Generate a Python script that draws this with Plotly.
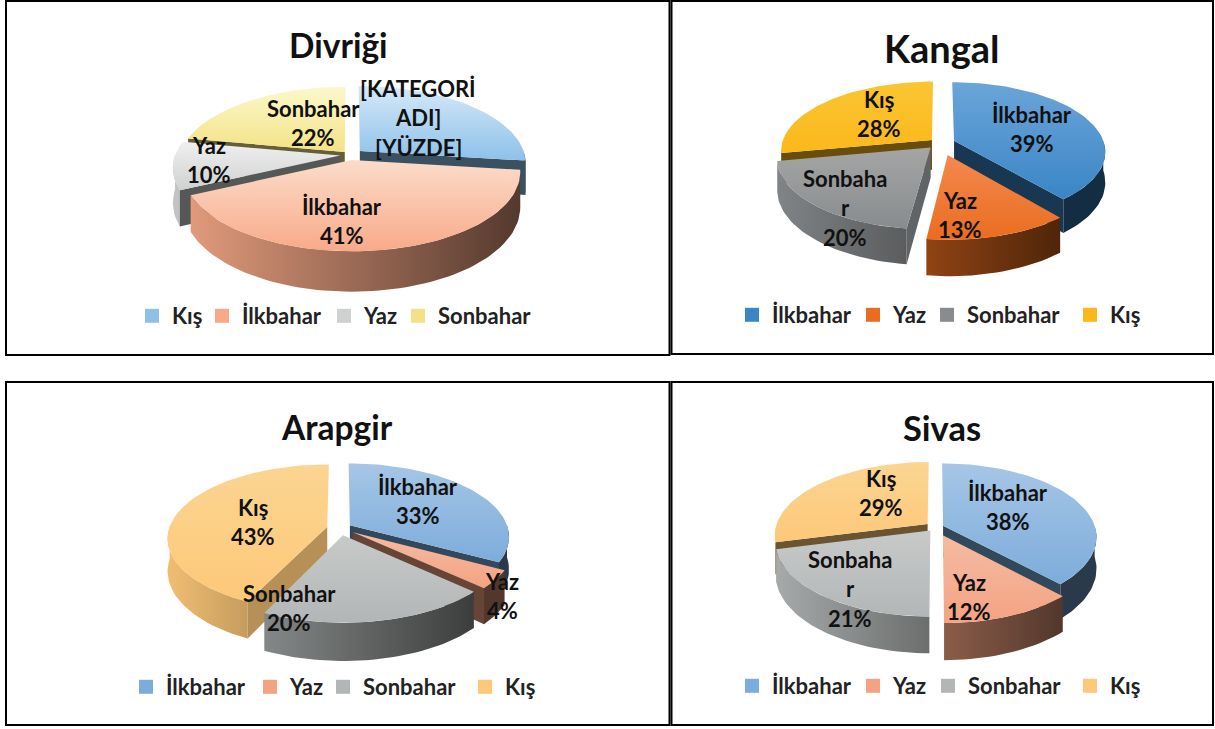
import math
import plotly.graph_objects as go

# ---- data ----
DIVRIGI_NAMES = ["Kış", "İlkbahar", "Yaz", "Sonbahar"]
DIVRIGI_VALUES = [27, 41, 10, 22]
KANGAL_NAMES = ["İlkbahar", "Yaz", "Sonbahar", "Kış"]
KANGAL_VALUES = [39, 13, 20, 28]
ARAPGIR_NAMES = ["İlkbahar", "Yaz", "Sonbahar", "Kış"]
ARAPGIR_VALUES = [33, 4, 20, 43]
SIVAS_NAMES = ["İlkbahar", "Yaz", "Sonbahar", "Kış"]
SIVAS_VALUES = [38, 12, 21, 29]

# ---- styles ----
DIVRIGI_TOP = [("#d6e9f8", "#8dc1ea"), ("#fcdccb", "#f8aa88"), ("#f0f0f0", "#cfd0d0"), ("#fcf8cc", "#f3e285")]
KANGAL_TOP = [("#6ba5d9", "#3a85c6"), ("#f5894f", "#e96d20"), ("#a5a5a5", "#888c8e"), ("#fac534", "#fcb81a")]
ARAPGIR_TOP = [("#a6c6e6", "#7dacdb"), ("#f4bba3", "#f4a382"), ("#c8caca", "#b3b6b6"), ("#fbd592", "#fdc879")]
SIVAS_TOP = ARAPGIR_TOP

PANELS = [
    dict(title="Divriği", tsize=33.5, tx=338, ty=45, names=DIVRIGI_NAMES, values=DIVRIGI_VALUES, top=DIVRIGI_TOP,
         cx=350, cy=155, R=165, Ry=76, D=34, pull=[0.08, 0.065, 0.06, 0.05],
         legend_text_x=[172, 242, 364, 438], ly=316),
    dict(title="Kangal", tsize=38, tx=942, ty=48, names=KANGAL_NAMES, values=KANGAL_VALUES, top=KANGAL_TOP,
         cx=940, cy=143, R=150, Ry=68, D=30, pull=[0.10, 0.18, 0.09, 0.07],
         legend_text_x=[772, 893, 967, 1110], ly=315),
    dict(title="Arapgir", tsize=33.5, tx=337, ty=427, names=ARAPGIR_NAMES, values=ARAPGIR_VALUES, top=ARAPGIR_TOP,
         cx=340, cy=528, R=158, Ry=72, D=32, pull=[0.073, 0.10, 0.10, 0.083],
         legend_text_x=[166, 290, 363, 505], ly=687),
    dict(title="Sivas", tsize=34.5, tx=942, ty=427, names=SIVAS_NAMES, values=SIVAS_VALUES, top=SIVAS_TOP,
         cx=936, cy=527, R=152, Ry=72, D=31, pull=[0.05, 0.12, 0.06, 0.07],
         legend_text_x=[772, 893, 968, 1110], ly=686),
]

LABEL_LINES = {
    "Divriği": [
        (["[KATEGORİ", "ADI]", "[YÜZDE]"], 418, 88),
        (["İlkbahar", "41%"], 342, 206),
        (["Yaz", "10%"], 209, 145),
        (["Sonbahar", "22%"], 313, 108),
    ],
    "Kangal": [
        (["İlkbahar", "39%"], 1032, 114),
        (["Yaz", "13%"], 960, 200),
        (["Sonbaha", "r", "20%"], 845, 178),
        (["Kış", "28%"], 879, 99),
    ],
    "Arapgir": [
        (["İlkbahar", "33%"], 418, 486),
        (["Yaz", "4%"], 502, 581),
        (["Sonbahar", "20%"], 289, 593),
        (["Kış", "43%"], 253, 507),
    ],
    "Sivas": [
        (["İlkbahar", "38%"], 1008, 492),
        (["Yaz", "12%"], 969, 582),
        (["Sonbaha", "r", "21%"], 850, 559),
        (["Kış", "29%"], 881, 478),
    ],
}

FONT = "Lato"
PERSPECTIVE = 0.15
LINE_GAP = 29.5
TEXT_SIZE = 22
LEGEND_TEXT_OFFSET = 40  # from the legend's left edge to its text


def shade(hex_color, f):
    r, g, b = (int(hex_color[i:i + 2], 16) for i in (1, 3, 5))
    return f"rgb({int(r * f)},{int(g * f)},{int(b * f)})"


def project(p, theta, radius, pull_u, pull_v, drop=0.0):
    u = radius * math.sin(theta) + pull_u
    v = -radius * math.cos(theta) + pull_v
    s = 1 / (1 - PERSPECTIVE * v)
    return p["cx"] + p["R"] * u * s, p["cy"] + p["Ry"] * v * s + drop * s


def arc(p, a, b, pu, pv, drop=0.0):
    n = max(2, int(abs(b - a) / math.radians(2)))
    return [project(p, a + (b - a) * i / n, 1, pu, pv, drop) for i in range(n + 1)]


fig = go.Figure()


def polygon(points, gradient_type, c0, c1):
    xs = [q[0] for q in points] + [points[0][0]]
    ys = [q[1] for q in points] + [points[0][1]]
    fig.add_trace(go.Scatter(
        x=xs, y=ys, mode="lines", line=dict(width=0), fill="toself", hoverinfo="skip", showlegend=False,
        fillgradient=dict(type=gradient_type, colorscale=[[0, c0], [1, c1]]),
    ))


def wall_factor(p, x):
    t = (x - (p["cx"] - p["R"])) / (2 * p["R"])
    return max(0.34, 0.92 - 0.66 * t)


legends = {}
legend_no = 0

for p in PANELS:
    total = sum(p["values"])
    start = 0.0
    slices = []
    for i, val in enumerate(p["values"]):
        a = start
        b = start + val / total * 2 * math.pi
        start = b
        mid = (a + b) / 2
        slices.append(dict(i=i, a=a, b=b, mid=mid, pu=p["pull"][i] * math.sin(mid), pv=-p["pull"][i] * math.cos(mid)))
    for sl in sorted(slices, key=lambda t: -math.cos(t["mid"])):
        a, b, pu, pv = sl["a"], sl["b"], sl["pu"], sl["pv"]
        base = p["top"][sl["i"]][1]
        apex = project(p, 0, 0, pu, pv)
        apex_low = project(p, 0, 0, pu, pv, p["D"])
        # outer wall (front half of the rim only; a thin end sliver at the far left stays hidden)
        lo, hi = max(a, math.pi / 2), min(b, 3 * math.pi / 2)
        if hi > lo and not (hi == 3 * math.pi / 2 and hi - lo < math.radians(20)):
            upper = arc(p, lo, hi, pu, pv)
            lower = arc(p, lo, hi, pu, pv, p["D"])
            xs = [q[0] for q in upper]
            polygon(upper + lower[::-1], "horizontal",
                    shade(base, wall_factor(p, min(xs))), shade(base, wall_factor(p, max(xs))))
        # visible cut faces
        if math.sin(a) < 0:
            f = 0.72 if a < math.radians(220) else 0.42
            q, r = project(p, a, 1, pu, pv), project(p, a, 1, pu, pv, p["D"])
            polygon([apex, q, r, apex_low], "horizontal", shade(base, f), shade(base, f))
        if math.sin(b) > 0:
            q, r = project(p, b, 1, pu, pv), project(p, b, 1, pu, pv, p["D"])
            polygon([apex, q, r, apex_low], "horizontal", shade(base, 0.42), shade(base, 0.42))
        # top face
        c0, c1 = p["top"][sl["i"]]
        polygon([apex] + arc(p, a, b, pu, pv), "vertical", c1, c0)
    # legend entries: one small legend per entry so that each sits where the reference has it
    for name, cols, text_x in zip(p["names"], p["top"], p["legend_text_x"]):
        legend_no += 1
        key = "legend" if legend_no == 1 else f"legend{legend_no}"
        fig.add_trace(go.Scatter(
            x=[None], y=[None], mode="markers", name=name, legend=key,
            marker=dict(symbol="square", size=14, color=cols[1]),
        ))
        legends[key] = dict(
            x=(text_x - LEGEND_TEXT_OFFSET) / 1215, y=1 - p["ly"] / 729, xanchor="left", yanchor="middle",
            bgcolor="rgba(0,0,0,0)", font=dict(family=FONT, size=TEXT_SIZE, color="#222222", weight="bold"),
            itemclick=False, itemdoubleclick=False,
        )
    # text
    fig.add_annotation(x=p["tx"], y=p["ty"], text=p["title"], showarrow=False, xanchor="center", yanchor="middle",
                       font=dict(family=FONT, size=p["tsize"], color="#111111", weight="bold"))
    for lines, x, y in LABEL_LINES[p["title"]]:
        for k, line in enumerate(lines):
            fig.add_annotation(x=x, y=y + k * LINE_GAP, text=line, showarrow=False, xanchor="center", yanchor="middle",
                               font=dict(family=FONT, size=TEXT_SIZE, color="#111111", weight="bold"))

for x0, y0, x1, y1 in [(6, 1, 669.5, 355), (671.5, 1, 1213, 354), (6, 382, 669.5, 725), (671.5, 382, 1213, 725)]:
    fig.add_shape(type="rect", x0=x0, y0=y0, x1=x1, y1=y1, line=dict(color="black", width=2), fillcolor="rgba(0,0,0,0)")

fig.update_layout(
    width=1215, height=729, margin=dict(l=0, r=0, t=0, b=0), paper_bgcolor="white", plot_bgcolor="white",
    xaxis=dict(range=[0, 1215], visible=False, fixedrange=True),
    yaxis=dict(range=[729, 0], visible=False, fixedrange=True),
    showlegend=True,
    **legends,
)
fig.write_html("out.html", config=dict(displayModeBar=False), post_script="document.body.style.margin='0';")
